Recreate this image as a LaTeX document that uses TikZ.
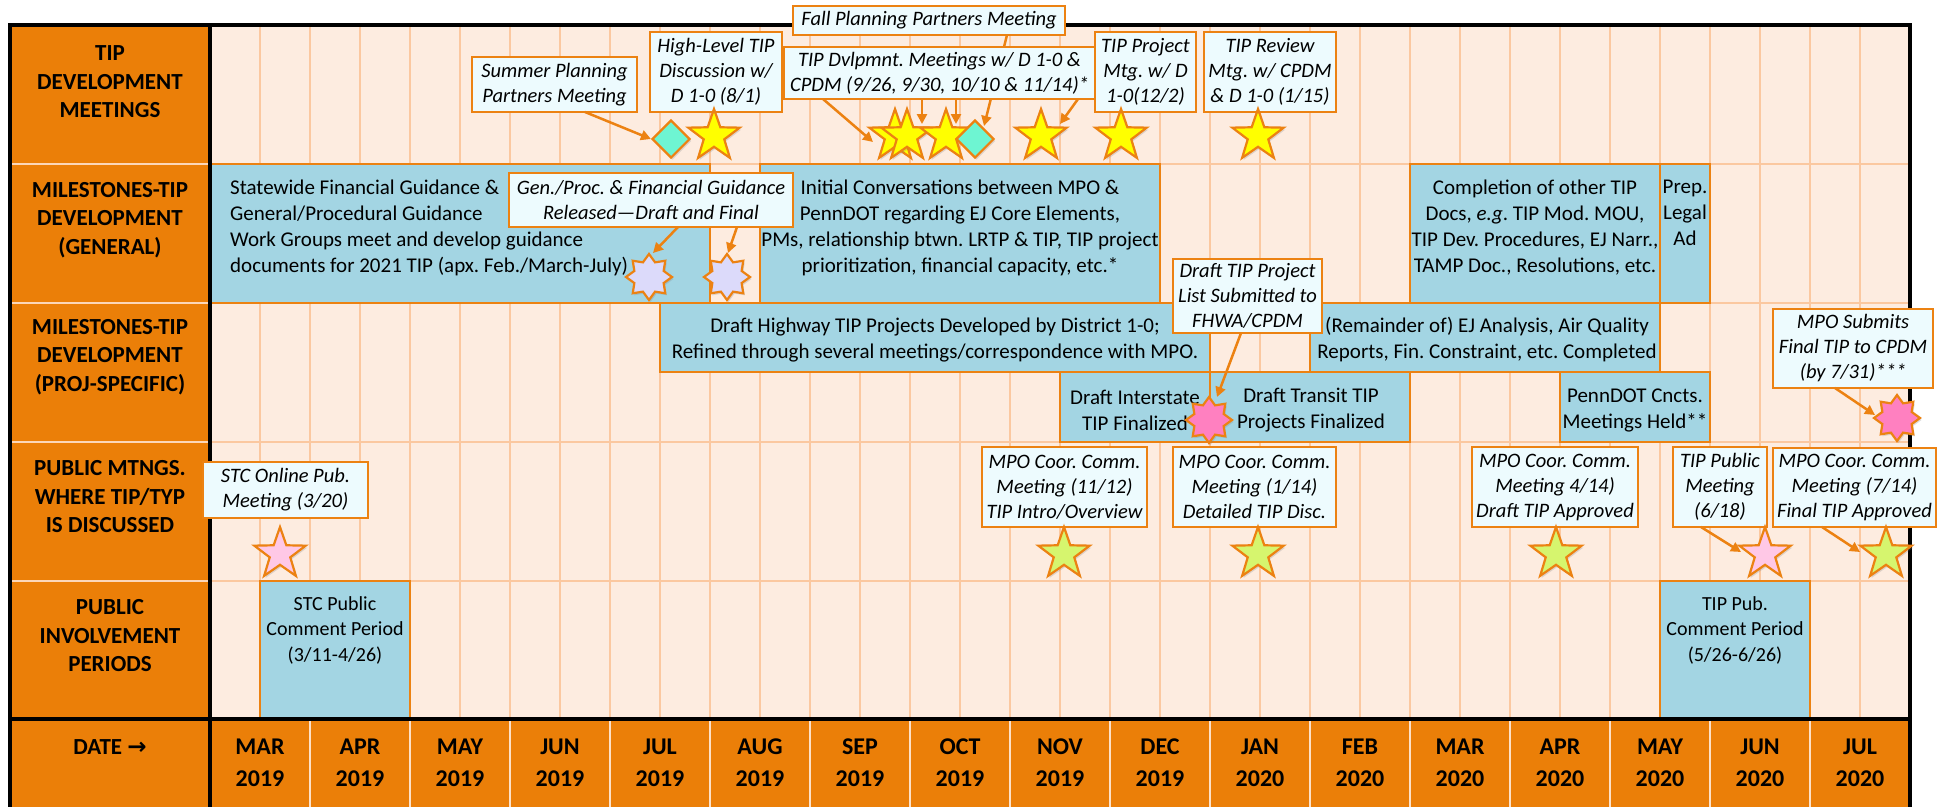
\documentclass[tikz,border=0pt]{standalone}
\usepackage{fontspec}
\setmainfont{Carlito}
\newfontfamily\dejavu{DejaVu Sans}
\usetikzlibrary{shapes.geometric,arrows.meta,shadows}
\frenchspacing
\definecolor{hdr}{RGB}{235,127,8}
\definecolor{peach}{RGB}{253,236,224}
\definecolor{gridc}{RGB}{251,200,160}
\definecolor{bord}{RGB}{236,130,18}
\definecolor{boxblue}{RGB}{163,213,227}
\definecolor{callfill}{RGB}{237,251,254}
\definecolor{ystar}{RGB}{255,255,0}
\definecolor{gstar}{RGB}{214,245,110}
\definecolor{pstar}{RGB}{255,200,230}
\definecolor{aqua}{RGB}{110,245,210}
\definecolor{lav}{RGB}{220,218,250}
\definecolor{hpink}{RGB}{255,128,192}
\definecolor{lblsep}{RGB}{252,215,185}
\definecolor{datesep}{RGB}{253,225,200}
\begin{document}
\frenchspacing
\begin{tikzpicture}[x=1pt,y=-1pt,
  callout/.style={draw=bord, fill=callfill, line width=2.6pt, align=center, inner sep=0pt, outer sep=0pt, font=\fontsize{20.5}{25}\selectfont\itshape},
  bluebox/.style={draw=bord, fill=boxblue, line width=2.6pt, inner sep=0pt, outer sep=0pt, anchor=north west},
  btext/.style={align=center, inner sep=0pt, font=\fontsize{21}{26}\selectfont},
  lbl/.style={align=center, inner sep=0pt, font=\fontsize{23}{28.5}\selectfont\bfseries},
  datelbl/.style={align=center, inner sep=0pt, font=\fontsize{24}{32}\selectfont\bfseries},
  shad/.style={drop shadow={opacity=0.25,shadow xshift=1.5pt,shadow yshift=-2pt}},
  starfive/.style={star, star points=5, star point ratio=2.5, minimum size=54pt, inner sep=0pt, draw=bord, line width=2.2pt, shad},
  stareight/.style={star, star points=8, star point ratio=1.45, minimum size=46pt, inner sep=0pt, draw=bord, line width=2.2pt, shad},
  gem/.style={diamond, minimum width=38pt, minimum height=38pt, inner sep=0pt, draw=bord, line width=2.2pt, fill=aqua, shad},
  arr/.style={draw=bord, line width=2.5pt, -{Triangle[length=10pt,width=10pt]}},
  gridline/.style={draw=gridc, line width=2.5pt},
  blackline/.style={draw=black, line width=3.5pt}
]
\useasboundingbox (0,0) rectangle (1944,807);
\fill[white] (0,0) rectangle (1944,807);
% backgrounds
\fill[peach] (210,25) rectangle (1910,719);
\fill[hdr] (10,25) rectangle (210,719);
\fill[hdr] (10,719) rectangle (1910,807);
\foreach \k in {1,...,33} \draw[gridline] ({210+50*\k},25) -- ({210+50*\k},719);
\foreach \y in {164,303,442,581} {
  \draw[gridline] (210,\y) -- (1910,\y);
  \draw[draw=lblsep, line width=2.5pt] (10,\y) -- (210,\y);
}
\foreach \k in {1,...,16} \draw[draw=datesep, line width=2.5pt] ({210+100*\k},719) -- ({210+100*\k},807);

% row labels
\node[lbl] (l1) at (110,82) {TIP\\DEVELOPMENT\\MEETINGS};
\node[lbl] (l2) at (110,220) {MILESTONES-TIP\\DEVELOPMENT\\(GENERAL)};
\node[lbl] (l3) at (110,357) {MILESTONES-TIP\\DEVELOPMENT\\(PROJ-SPECIFIC)};
\node[lbl] (l4) at (110,497) {PUBLIC MTNGS.\\WHERE TIP/TYP\\IS DISCUSSED};
\node[lbl] (l5) at (110,636) {PUBLIC\\INVOLVEMENT\\PERIODS};
\node[lbl] (ldate) at (110,747) {DATE {\dejavu\bfseries →}};
\foreach \m/\yr [count=\i from 0] in {MAR/2019,APR/2019,MAY/2019,JUN/2019,JUL/2019,AUG/2019,SEP/2019,OCT/2019,NOV/2019,DEC/2019,JAN/2020,FEB/2020,MAR/2020,APR/2020,MAY/2020,JUN/2020,JUL/2020}
  \node[datelbl] (m\i) at ({260+100*\i},763) {\m\\\yr};

% blue boxes
\node[bluebox, minimum width=500pt, minimum height=139pt] (statewide) at (210,164) {};
\node[bluebox, minimum width=400pt, minimum height=139pt] (initconv) at (760,164) {};
\node[bluebox, minimum width=250pt, minimum height=139pt] (completion) at (1410,164) {};
\node[bluebox, minimum width=50pt, minimum height=139pt] (prep) at (1660,164) {};
\node[bluebox, minimum width=550pt, minimum height=69pt] (highway) at (660,303) {};
\node[bluebox, minimum width=350pt, minimum height=69pt] (remainder) at (1310,303) {};
\node[bluebox, minimum width=150pt, minimum height=70pt] (interstate) at (1060,372) {};
\node[bluebox, minimum width=200pt, minimum height=70pt] (transit) at (1210,372) {};
\node[bluebox, minimum width=150pt, minimum height=70pt] (penndot) at (1560,372) {};
\node[bluebox, minimum width=150pt, minimum height=138pt] (stcpub) at (260,581) {};
\node[bluebox, minimum width=150pt, minimum height=138pt] (tippubc) at (1660,581) {};

\node[btext, align=left, anchor=north west] (tstatewide) at (230,180) {Statewide Financial Guidance \&\\General/Procedural Guidance\\Work Groups meet and develop guidance\\documents for 2021 TIP (apx. Feb./March-July)};
\node[btext, anchor=north] (tinitconv) at (960,180) {Initial Conversations between MPO \&\\PennDOT regarding EJ Core Elements,\\PMs, relationship btwn. LRTP \& TIP, TIP project\\prioritization, financial capacity, etc.*};
\node[btext, anchor=north] (tcompletion) at (1535,180) {Completion of other TIP\\Docs, \textit{e.g}. TIP Mod. MOU,\\TIP Dev. Procedures, EJ Narr.,\\TAMP Doc., Resolutions, etc.};
\node[btext, anchor=north] (tprep) at (1685,180) {Prep.\\Legal\\Ad};
\node[btext] (thighway) at (935,340) {Draft Highway TIP Projects Developed by District 1-0;\\Refined through several meetings/correspondence with MPO.};
\node[btext] (tremainder) at (1487,340) {(Remainder of) EJ Analysis, Air Quality\\Reports, Fin. Constraint, etc. Completed};
\node[btext] (tinterstate) at (1135,410) {Draft Interstate\\TIP Finalized};
\node[btext] (ttransit) at (1311,410) {Draft Transit TIP\\Projects Finalized};
\node[btext] (tpenndot) at (1635,410) {PennDOT Cncts.\\Meetings Held**};
\node[btext, anchor=north, font=\fontsize{20}{25.5}\selectfont] (tstcpub) at (335,596) {STC Public\\Comment Period\\(3/11-4/26)};
\node[btext, anchor=north, font=\fontsize{20}{25.5}\selectfont] (ttippubc) at (1735,596) {TIP Pub.\\Comment Period\\(5/26-6/26)};

% black frame
\draw[blackline] (10,25) -- (1910,25);
\draw[blackline] (10,23.25) -- (10,807);
\draw[blackline] (1910,23.25) -- (1910,807);
\draw[blackline] (210,25) -- (210,807);
\draw[blackline] (10,719) -- (1910,719);

% callouts
\node[callout, minimum width=165pt, minimum height=55pt] (summer) at (554.5,84.5) {Summer Planning\\Partners Meeting};
\node[callout, minimum width=132pt, minimum height=80pt] (highlevel) at (716,72) {High-Level TIP\\Discussion w/\\D 1-0 (8/1)};
\node[callout, minimum width=272pt, minimum height=29pt] (fall) at (929,20.5) {Fall Planning Partners Meeting};
\node[callout, minimum width=101pt, minimum height=80pt] (tipproj) at (1145.5,72) {TIP Project\\Mtg. w/ D\\1-0(12/2)};
\node[callout, minimum width=132pt, minimum height=80pt] (tiprev) at (1270,72) {TIP Review\\Mtg. w/ CPDM\\\& D 1-0 (1/15)};
\node[callout, minimum width=284pt, minimum height=54pt] (genproc) at (651,200) {Gen./Proc. \& Financial Guidance\\Released—Draft and Final};
\node[callout, minimum width=149pt, minimum height=74pt] (drafttip) at (1247.5,296) {Draft TIP Project\\List Submitted to\\FHWA/CPDM};
\node[callout, minimum width=160pt, minimum height=79pt] (mposub) at (1853,348.5) {MPO Submits\\Final TIP to CPDM\\(by 7/31)***};
\node[callout, minimum width=165pt, minimum height=56pt] (stconline) at (285.5,490) {STC Online Pub.\\Meeting (3/20)};
\node[callout, minimum width=165pt, minimum height=80pt] (mpoa) at (1064.5,487) {MPO Coor. Comm.\\Meeting (11/12)\\TIP Intro/Overview};
\node[callout, minimum width=163pt, minimum height=80pt] (mpob) at (1254.5,487) {MPO Coor. Comm.\\Meeting (1/14)\\Detailed TIP Disc.};
\node[callout, minimum width=166pt, minimum height=80pt] (mpoc) at (1555,487) {MPO Coor. Comm.\\Meeting 4/14)\\Draft TIP Approved};
\node[callout, minimum width=94pt, minimum height=80pt] (tippub) at (1720,487) {TIP Public\\Meeting\\(6/18)};
\node[callout, minimum width=163pt, minimum height=79pt] (mpod) at (1854.5,487.5) {MPO Coor. Comm.\\Meeting (7/14)\\Final TIP Approved};

% markers
\node[gem] (dia1) at (671,139) {};
\node[starfive, fill=ystar] (y1) at (714,136) {};
\node[starfive, fill=ystar] (sa) at (895,136) {};
\node[starfive, fill=ystar] (sb) at (907,136) {};
\node[starfive, fill=ystar] (sc) at (946,136) {};
\node[gem] (dia2) at (975,139) {};
\node[starfive, fill=ystar] (sd) at (1041,136) {};
\node[starfive, fill=ystar] (se) at (1121,136) {};
\node[starfive, fill=ystar] (sf) at (1258,136) {};
\node[stareight, fill=lav] (lav1) at (649,277) {};
\node[stareight, fill=lav] (lav2) at (727,277) {};
\node[stareight, fill=hpink] (hp1) at (1209,420) {};
\node[stareight, fill=hpink] (hp2) at (1897,418) {};
\node[starfive, fill=pstar] (pk1) at (280,554) {};
\node[starfive, fill=pstar] (pk2) at (1765,554) {};
\node[starfive, fill=gstar] (g1) at (1064,554) {};
\node[starfive, fill=gstar] (g2) at (1258,554) {};
\node[starfive, fill=gstar] (g3) at (1556,554) {};
\node[starfive, fill=gstar] (g4) at (1886,554) {};

% fall arrow (behind TIP development box)
\draw[arr] ([xshift=78pt]fall.south) -- ([xshift=9pt,yshift=13pt]dia2.center);
\node[callout, minimum width=311pt, minimum height=52pt] (tipdev) at (939.5,73) {TIP Dvlpmnt. Meetings w/ D 1-0 \&\\CPDM (9/26, 9/30, 10/10 \& 11/14)*};

% arrows
\draw[arr] ([xshift=30.5pt]summer.south) -- (dia1.west);
\draw[arr] ([xshift=27pt]genproc.south) -- ([xshift=4pt,yshift=24pt]lav1.center);
\draw[arr] ([xshift=86pt]genproc.south) -- ([xshift=1pt,yshift=24pt]lav2.center);
\draw[arr] ([xshift=-116.5pt]tipdev.south) -- ([xshift=-22pt,yshift=-6pt]sa.center);
\draw[arr] ([xshift=-17.5pt]tipdev.south) -- ([xshift=15pt,yshift=12pt]sb.center);
\draw[arr] ([xshift=16.5pt]tipdev.south) -- ([xshift=10pt,yshift=12pt]sc.center);
\draw[arr] ([xshift=138.5pt]tipdev.south) -- ([xshift=19pt,yshift=12pt]sd.center);
\draw[arr] ([xshift=-6.5pt]drafttip.south) -- ([xshift=8pt,yshift=23pt]hp1.center);
\draw[arr] ([xshift=-18pt]mposub.south) -- ([xshift=-22pt,yshift=3pt]hp2.center);
\draw[arr] ([xshift=-19pt]tippub.south) -- ([xshift=-24pt,yshift=2pt]pk2.center);
\draw[arr] ([xshift=-32.5pt]mpod.south) -- ([xshift=-26pt,yshift=2pt]g4.center);
\end{tikzpicture}
\end{document}
